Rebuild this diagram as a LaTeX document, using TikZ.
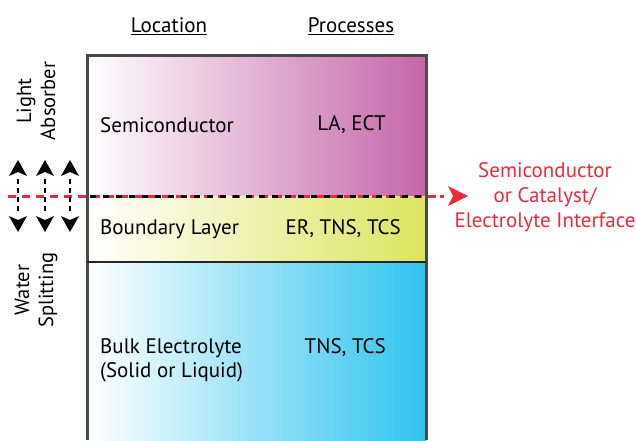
\documentclass[tikz,border=0pt]{standalone}
\usepackage{fontspec}
\setmainfont{PT Sans}
\usetikzlibrary{arrows.meta}
\definecolor{magc}{HTML}{C466A8}
\definecolor{yelc}{HTML}{DCE45E}
\definecolor{bluc}{HTML}{2FC3EE}
\definecolor{redc}{HTML}{EE2A3A}
\definecolor{edge}{HTML}{4A4A4A}
\tikzset{
  lbl/.style={font=\fontsize{21}{24}\selectfont, inner sep=0pt},
  hdr/.style={font=\fontsize{21}{24}\selectfont, inner sep=0pt},
  side/.style={font=\fontsize{20.5}{24}\selectfont, align=center, rotate=90, inner sep=0pt},
  redlbl/.style={font=\fontsize{21}{25}\selectfont, text=redc, align=center, inner sep=0pt},
  vdash/.style={black, line width=1.6pt, dash pattern=on 5pt off 4pt},
}
\begin{document}
\begin{tikzpicture}[x=1pt,y=-1pt]
\useasboundingbox (0,0) rectangle (636,440);
% layers
\shade[left color=white, right color=magc] (87,55) rectangle (426,196);
\shade[left color=white, right color=yelc] (87,196) rectangle (426,262);
\shade[left color=white, right color=bluc] (87,262) rectangle (426,440);
% borders
\draw[edge, line width=3pt] (87,440) -- (87,55) -- (426,55) -- (426,440);
\draw[black!85, line width=2.5pt] (87,262) -- (426,262);
% interface coordinates
\coordinate (ifl) at (8,196);
\coordinate (ifr) at (440,196);
\coordinate (bl) at (87,196);
\coordinate (br) at (426,196);
\coordinate (tip) at (468,196);
\draw[redc, line width=3pt, dash pattern=on 8pt off 6pt] (ifl) -- (ifr);
\draw[black, line width=3pt, dash pattern=on 6pt off 7pt, dash phase=-3pt] (bl) -- (br);
\draw[redc, line width=3pt] (ifr) -- +(4,0);
\fill[redc] (tip) -- ++(-20,-10) -- ++(5,10) -- ++(-5,10) -- cycle;
% side arrows
\foreach \x/\n in {18/a,45/b,70/c}{
  \coordinate (u\n) at (\x,160);
  \coordinate (d\n) at (\x,232);
  \coordinate (m\n) at (\x,196);
  \draw[vdash] (\x,179) -- (\x,214);
  \fill[black] (u\n) -- ++(-9,16) -- ++(9,-4) -- ++(9,4) -- cycle;
  \fill[black] (d\n) -- ++(-9,-16) -- ++(9,4) -- ++(9,-4) -- cycle;
}
% headers
\node[hdr] (loc) at (169,26) {\underline{Location}};
\node[hdr] (proc) at (351,26) {\underline{Processes}};
% side labels
\node[side] (la) at (36,101) {Light\\Absorber};
\node[side] (ws) at (36,290) {Water\\Splitting};
% text in layers
\node[lbl, anchor=west] (sc) at (100,125) {Semiconductor};
\node[lbl, anchor=east] (scp) at (386,125) {LA, ECT};
\node[lbl, anchor=west] (bly) at (100,229) {Boundary Layer};
\node[lbl, anchor=east] (blp) at (401,229) {ER, TNS, TCS};
\node[lbl, anchor=west, align=left] (be) at (100,360) {Bulk Electrolyte\\(Solid or Liquid)};
\node[lbl, anchor=east] (bep) at (386,348) {TNS, TCS};
% red label
\node[redlbl] (iface) at (545,197) {Semiconductor\\or Catalyst/\\Electrolyte Interface};
\end{tikzpicture}
\end{document}
